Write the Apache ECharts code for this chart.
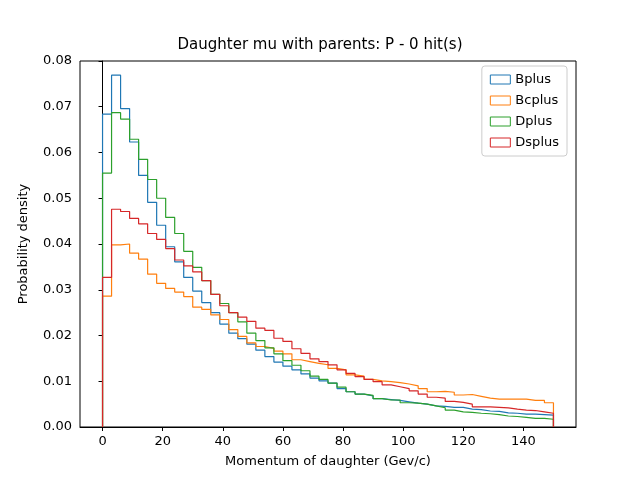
<!DOCTYPE html>
<html>
<head>
<meta charset="utf-8">
<script src="https://cdn.jsdelivr.net/npm/echarts@6/dist/echarts.min.js"></script>
<style>html,body{margin:0;padding:0;background:#fff}#chart{width:640px;height:480px}</style>
</head>
<body>
<div id="chart"></div>
<script>
// bin edges: 0..150 step 3 (50 bins)
var binWidth = 3;
var names = ['Bplus', 'Bcplus', 'Dplus', 'Dsplus'];
var colors = ['#1f77b4', '#ff7f0e', '#2ca02c', '#d62728'];
var xTicks = [0, 20, 40, 60, 80, 100, 120, 140];

var bplus = [0.0684,0.0769,0.0696,0.0623,0.0550,0.0491,0.0441,0.0394,0.0361,0.0327,
  0.0297,0.0272,0.0250,0.0225,0.0205,0.0193,0.0181,0.0168,0.0154,0.0142,
  0.0133,0.0125,0.0116,0.0107,0.0101,0.0096,0.0084,0.0077,0.0072,0.0068,
  0.0062,0.0060,0.0058,0.0055,0.0052,0.0050,0.0046,0.0045,0.0043,0.0043,
  0.0039,0.0038,0.0035,0.0034,0.0031,0.0030,0.0028,0.0028,0.0027,0.0026];
var bcplus = [0.0286,0.0398,0.0400,0.0380,0.0367,0.0334,0.0314,0.0303,0.0295,0.0285,
  0.0262,0.0257,0.0245,0.0235,0.0213,0.0198,0.0184,0.0176,0.0172,0.0166,
  0.0160,0.0147,0.0143,0.0139,0.0136,0.0128,0.0125,0.0114,0.0111,0.0104,
  0.0101,0.0099,0.0097,0.0094,0.0090,0.0084,0.0077,0.0078,0.0076,0.0070,
  0.0071,0.0067,0.0063,0.0061,0.0061,0.0061,0.0061,0.0058,0.0058,0.0053];
var dplus = [0.0555,0.0687,0.0673,0.0629,0.0585,0.0541,0.0500,0.0458,0.0423,0.0384,
  0.0349,0.0320,0.0290,0.0270,0.0250,0.0230,0.0205,0.0189,0.0173,0.0160,
  0.0145,0.0135,0.0123,0.0111,0.0104,0.0096,0.0087,0.0077,0.0072,0.0069,
  0.0062,0.0059,0.0059,0.0053,0.0052,0.0050,0.0046,0.0042,0.0037,0.0033,
  0.0032,0.0030,0.0029,0.0027,0.0024,0.0023,0.0021,0.0019,0.0019,0.0017];
var dsplus = [0.0327,0.0476,0.0471,0.0456,0.0444,0.0423,0.0410,0.0390,0.0365,0.0352,
  0.0339,0.0320,0.0290,0.0265,0.0250,0.0240,0.0231,0.0216,0.0211,0.0194,
  0.0187,0.0171,0.0161,0.0149,0.0143,0.0136,0.0125,0.0117,0.0110,0.0104,
  0.0099,0.0092,0.0088,0.0084,0.0079,0.0072,0.0065,0.0063,0.0056,0.0054,
  0.0050,0.0044,0.0044,0.0043,0.0042,0.0039,0.0037,0.0036,0.0033,0.0030];
var allData = [bplus, bcplus, dplus, dsplus];

// histogram outline as step path
function stepPath(vals) {
  var pts = [[0, 0]];
  for (var i = 0; i < vals.length; i++) {
    pts.push([i * binWidth, vals[i]]);
    pts.push([(i + 1) * binWidth, vals[i]]);
  }
  pts.push([vals.length * binWidth, 0]);
  return pts;
}

var series = names.map(function (n, i) {
  return {
    name: n, type: 'line', data: stepPath(allData[i]), symbol: 'none',
    lineStyle: { color: colors[i], width: 1.2 }, itemStyle: { color: colors[i] },
    animation: false
  };
});

var myChart = echarts.init(document.getElementById('chart'));
myChart.setOption({
  title: { text: 'Daughter mu with parents: P - 0 hit(s)', left: 'center', top: 33,
    textStyle: { fontSize: 15, fontWeight: 'normal', color: '#000', fontFamily: 'DejaVu Sans' } },
  legend: {
    orient: 'vertical', right: 73, top: 66, itemWidth: 20, itemHeight: 9, itemGap: 8,
    padding: [7, 8, 7, 8], borderColor: '#ccc', borderWidth: 1, borderRadius: 3,
    textStyle: { fontSize: 13, color: '#000', fontFamily: 'DejaVu Sans' },
    data: names.map(function (n, i) {
      return { name: n, icon: 'rect', itemStyle: { color: 'rgba(0,0,0,0)', borderColor: colors[i], borderWidth: 1 } };
    })
  },
  grid: { left: 80, right: 64, top: 61, bottom: 53, containLabel: false, show: true, borderColor: '#000', borderWidth: 1 },
  xAxis: {
    type: 'value', min: -7.5, max: 157.5,
    name: 'Momentum of daughter (Gev/c)', nameLocation: 'middle', nameGap: 28,
    nameTextStyle: { fontSize: 13, color: '#000', fontFamily: 'DejaVu Sans' },
    axisLine: { lineStyle: { color: '#000' } },
    axisTick: { customValues: xTicks, length: 4, lineStyle: { color: '#000' } },
    axisLabel: { customValues: xTicks, fontSize: 13, color: '#000', fontFamily: 'DejaVu Sans' },
    splitLine: { show: false }
  },
  yAxis: {
    type: 'value', min: 0, max: 0.08, interval: 0.01,
    name: 'Probability density', nameLocation: 'middle', nameGap: 50,
    nameTextStyle: { fontSize: 13, color: '#000', fontFamily: 'DejaVu Sans' },
    axisLine: { show: true, lineStyle: { color: '#000' } },
    axisTick: { show: true, length: 4, lineStyle: { color: '#000' } },
    axisLabel: { fontSize: 13, color: '#000', fontFamily: 'DejaVu Sans', formatter: function (v) { return v.toFixed(2); } },
    splitLine: { show: false }
  },
  series: series
});
</script>
</body>
</html>
